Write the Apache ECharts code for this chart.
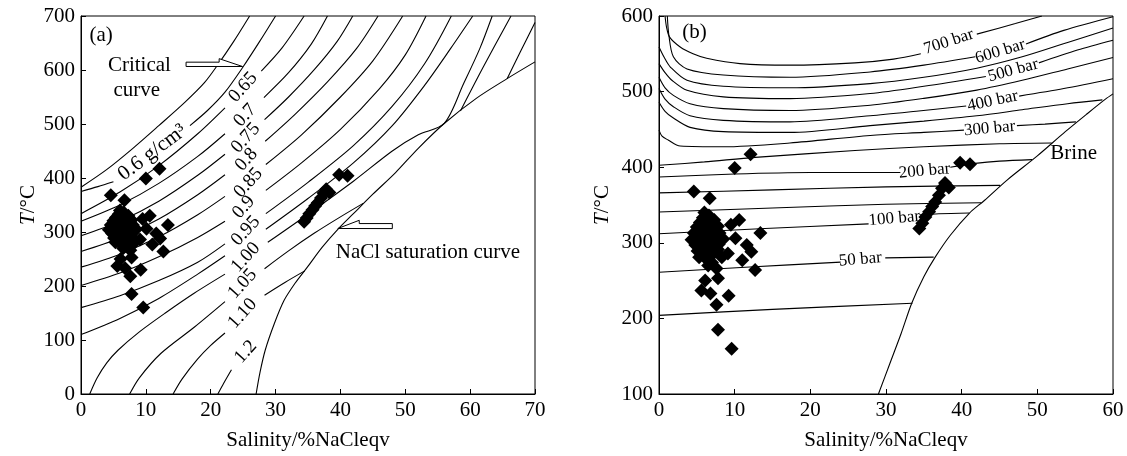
<!DOCTYPE html>
<html><head><meta charset="utf-8">
<script src="https://cdn.jsdelivr.net/npm/echarts@6/dist/echarts.min.js"></script>
<style>html,body{margin:0;padding:0;background:#fff}#c{width:1127px;height:456px}</style>
</head><body><div id="c"></div>
<script>
// ---------- DATA ----------
const xTicksA = [0,10,20,30,40,50,60,70];
const yTicksA = [0,100,200,300,400,500,600,700];
const xTicksB = [0,10,20,30,40,50,60];
const yTicksB = [100,200,300,400,500,600];

// fluid inclusions (salinity wt% NaCl eqv, Th °C)
const inclusions = [
 [4.6,368],[6.7,359],[10.0,399],[12.1,417],
 [10.6,330],[9.5,324],[13.4,313],[10.1,306],[11.6,297],[12.2,288],[9.1,286],[11.0,277],[12.7,264],
 [7.6,266],[7.8,253],[6.1,250],[5.6,237],[6.8,233],[9.2,230],[7.6,218],[7.8,185],[9.6,160],
 [8.5,305],[7.8,291],[8.3,281],
 [4.3,304],[4.6,313],[4.8,297],[5.0,321],[5.1,289],[5.2,308],[5.4,327],[5.5,300],[5.6,316],[5.7,285],
 [5.8,333],[5.9,295],[6.0,310],[6.1,323],[6.2,279],[6.3,302],[6.4,291],[6.5,318],[6.6,336],[6.7,308],
 [6.8,296],[6.9,326],[7.0,284],[7.1,313],[7.2,300],[7.3,330],[7.4,318],[7.5,290],[7.6,306],[7.8,322],
 [7.9,298],[8.0,313],[6.0,340],[7.0,274],[6.5,270],[5.3,281],
 [34.4,319],[34.8,326],[35.2,334],[35.7,341],[36.1,348],[36.5,354],[37.0,363],[37.4,372],[37.8,379],
 [38.3,373],[39.8,406],[41.1,404]
];

// (a) isochores, critical curve, NaCl saturation curve
const critCurve = [[0,383],[4,416],[8,455],[12,497],[16,540],[19,576],[21,608],[23.5,652],[26,700]];
const iso060L = [[0,375],[2.6,384],[5.0,393]];
const iso060R = [[16.8,497],[19.5,525],[22.2,559],[25,606],[27.5,652],[30,700]];
const iso065L = [[0,334],[6,374],[12,423],[18,482],[22.2,530]];
const iso065R = [[27.8,598],[31,641],[34.4,700]];
const iso070L = [[0,320],[6,350],[12,390],[18,440],[22.2,482]];
const iso070R = [[28.2,549],[32,595],[35.5,648],[38,700]];
const iso075L = [[0,293],[6,320],[12,357],[18,405],[22.2,444]];
const iso075R = [[28.3,508],[32,550],[36,601],[39.5,653],[41.9,700]];
const iso080L = [[0,264],[6,289],[12,324],[18,369],[22.2,406]];
const iso080R = [[28.4,468],[33,518],[38,578],[42.5,640],[45.8,700]];
const iso085L = [[0,235],[6,259],[12,291],[18,332],[22.2,366]];
const iso085R = [[28.5,425],[34,480],[40,550],[45,617],[49.6,700]];
const iso090L = [[0,201],[6,224],[12,254],[18,290],[22.2,320]];
const iso090R = [[28.5,377],[34,428],[40,490],[46,565],[50,628],[53.2,700]];
const iso095L = [[0,160],[6,182],[12,210],[18,244],[22.2,278]];
const iso095R = [[28.5,334],[35,392],[42,460],[48,533],[53,612],[57.1,700]];
const isoXL = [[0,110],[6,140],[12,177],[18,222],[22.2,256]];
const isoXR = [[28.5,305],[35,362],[42,428],[48,497],[53,572],[57,640],[60.4,700]];
const iso100L = [[1.35,0],[2.5,30],[4,58],[5.7,81],[9,115],[13,150],[17.5,187],[22.2,222]];
const iso100R = [[28.8,281],[35,333],[42,394],[48,450],[52,480],[56,501],[59,575],[61.5,640],[63.4,700]];
const iso105L = [[7.5,0],[9,30],[12.3,75],[17.5,124],[22.2,171]];
const iso105R = [[28.3,232],[32,265],[36,298],[40,328],[43.5,353]];
const iso110L = [[14.2,0],[15.6,28],[18,65],[20,90],[22.2,113]];
const iso110R = [[28.3,183],[31.5,207],[34.5,228]];
const iso120L = [[21.1,0],[22,20],[23.2,45]];
const extra1 = [[58.5,524],[62,605],[66.3,700]];
const extra2 = [[65.7,584],[67.8,635],[70,688]];
const satCurveA = [[27,0],[27.6,40],[28.4,81],[29.8,130],[31.3,173],[33,205],[34.9,235],[37.2,272],[39.6,305],[42,334],[45,370],[48.5,410],[52,455],[56,501],[61,548],[65.7,584],[70,615]];
const critArrow = [[16.2,614.5],[21.3,614.5],[21.3,621],[24.9,606.5],[16.2,606.5]];
const satArrow = [[39.6,306.5],[42.9,321.7],[42.9,315.6],[48.0,315.6],[48.0,306.3]];

// (b) isobars and brine (halite saturation) curve
const bar700L = [[0.8,600],[1.0,585],[1.4,572],[2.8,559],[4.5,550],[6.3,544],[10.7,537],[17.3,535],[25.9,538],[31,543],[34.6,550]];
const bar700R = [[42,576],[47.1,590],[50.6,600]];
const bar600L = [[1.1,600],[1.3,575],[1.9,546],[3.7,530],[8.5,522],[17.3,519],[27.9,526],[35,535],[41.8,546]];
const bar600R = [[48.5,563],[53.5,581],[60,599]];
const bar550 = [[0,559],[0.7,545],[1.5,532.5],[3.7,515],[8.5,507],[17.3,505],[27.9,510.6],[35,519],[42,531],[48,546],[54,565],[60,584]];
const bar500L = [[0,537],[0.8,525],[1.7,515],[3.7,501.7],[8.5,493],[17.3,490.7],[27.9,497.4],[35,507],[43.2,520]];
const bar500R = [[50.2,538],[55.3,555],[60,568]];
const bar450 = [[0,519],[0.8,505],[1.9,495],[4.1,484],[8.5,477.5],[17.3,475],[27.9,482],[35,491],[42,502],[48,515],[54,530],[60,545]];
const bar400L = [[0,504],[0.8,490],[1.9,480],[4.1,468],[8.5,462],[17.3,460],[27.9,468],[34,474],[40.6,481]];
const bar400R = [[47.6,494],[53.5,504],[60,517]];
const bar350 = [[0,486],[0.8,474],[1.9,465],[4.1,452.7],[8.5,447],[17.3,446],[27.9,455],[35,461],[42,468],[48,476],[54,484],[58.6,489]];
const bar300L = [[0,449],[0.4,441],[1.2,436],[2.8,428],[8.5,427],[17.3,432],[27.9,442],[35,446],[40.3,449]];
const bar300R = [[47.3,455],[51,457],[55.1,460]];
const bar250 = [[0,402.5],[6,407],[12.7,413],[25.9,422],[35,427],[45,431],[51.9,432]];
const bar200L = [[0,387],[10,391],[20,393],[31.9,393]];
const bar200R = [[38.5,400],[41.8,405],[45,408],[49.3,410]];
const bar150 = [[0,366],[15,370],[30,374],[45.1,376]];
const bar125 = [[0,340.7],[15,346],[30,351],[42.6,353]];
const bar100L = [[0,312],[14,319],[27.7,325]];
const bar100R = [[34.5,337],[37,338.5],[41,339.5]];
const bar50L = [[0,261],[12,268],[24,274.5]];
const bar50R = [[29.9,280],[36.3,281]];
const bar25 = [[0,204],[15,212],[33.5,220]];
const brineCurve = [[29,100],[30.5,140],[32,180],[33.4,220],[35,255],[36.5,281],[38.5,310],[41,339],[43,356],[46,383],[50,415],[53.7,447],[56.5,470],[59,490],[60,497]];

// annotation texts
const textsA = ['(a)','Critical','curve','0.6 g/cm³','0.65','0.7','0.75','0.8','0.85','0.9','0.95','1.00','1.05','1.10','1.2','NaCl saturation curve'];
const textPosA = [[3.1,663],[9.0,609],[8.6,562],[11,447],[25.0,568],[25.3,516],[25.4,474],[25.5,434],[25.8,391],[25.1,346],[25.4,302],[25.4,253],[24.9,204],[24.9,149],[25.4,78],[53.5,262]];
const textRotA = [0,0,0,37,48,48,48,48,48,48,48,48,48,48,48,0];
const textSizeA = [21,21,21,21,19,19,19,19,19,19,19,19,19,19,19,21];
const textsB = ['(b)','700 bar','600 bar','500 bar','400 bar','300 bar','200 bar','100 bar','50 bar','Brine'];
const textPosB = [[4.7,578],[38.3,566],[45.1,553],[46.8,528],[44.1,487.5],[43.7,451],[35.1,395],[31.1,332],[26.6,278],[54.8,418]];
const textRotB = [0,18,17,15,12,5,5,5,5,0];
const textSizeB = [21,17,17,17,17,17,17,17,17,21];

// ---------- CHART ----------
const FONT = 'Liberation Serif';
const chart = echarts.init(document.getElementById('c'), null, {renderer:'canvas'});

const curvesA = [critCurve,iso060L,iso060R,iso065L,iso065R,iso070L,iso070R,iso075L,iso075R,iso080L,iso080R,
  iso085L,iso085R,iso090L,iso090R,iso095L,iso095R,isoXL,isoXR,iso100L,iso100R,iso105L,iso105R,iso110L,iso110R,
  iso120L,extra1,extra2,satCurveA];
const curvesB = [bar700L,bar700R,bar600L,bar600R,bar550,bar500L,bar500R,bar450,bar400L,bar400R,bar350,
  bar300L,bar300R,bar250,bar200L,bar200R,bar150,bar125,bar100L,bar100R,bar50L,bar50R,bar25,brineCurve];

function lineSeries(d, gi){
  return {type:'line', xAxisIndex:gi, yAxisIndex:gi, data:d, showSymbol:false, smooth:0.3,
    lineStyle:{color:'#000', width:1.1}, silent:true, z:2, animation:false};
}
function textLayer(gi, pos, texts, rots, sizes){
  return {type:'custom', xAxisIndex:gi, yAxisIndex:gi, data:pos, silent:true, z:6, clip:false,
    renderItem:(params, api)=>{
      const p = api.coord([api.value(0), api.value(1)]);
      const i = params.dataIndex;
      return {type:'text', x:p[0], y:p[1], rotation:rots[i]*Math.PI/180,
        style:{text:texts[i], fill:'#000', fontSize:sizes[i], fontFamily:FONT, align:'center', verticalAlign:'middle'}};
    }};
}
function arrowLayer(gi, pts){
  return {type:'custom', xAxisIndex:gi, yAxisIndex:gi, data:pts, silent:true, z:7,
    renderItem:(params, api)=>{
      if(params.dataIndex!==0) return null;
      return {type:'polygon', shape:{points:pts.map(q=>api.coord(q))},
        style:{fill:'#fff', stroke:'#000', lineWidth:1}};
    }};
}
function xAx(gi,max,ticks){
  return {gridIndex:gi, type:'value', min:0, max:max, interval:10,
    axisLine:{onZero:false, lineStyle:{color:'#000', width:1}},
    axisTick:{inside:true, length:5, lineStyle:{color:'#000'}},
    axisLabel:{color:'#000', fontFamily:FONT, fontSize:21, margin:6},
    splitLine:{show:false},
    name:'Salinity/%NaCleqv', nameLocation:'middle', nameGap:36,
    nameTextStyle:{color:'#000', fontFamily:FONT, fontSize:21}};
}
function yAx(gi,min,max,ticks,gap){
  return {gridIndex:gi, type:'value', min:min, max:max, interval:100,
    axisLine:{onZero:false, lineStyle:{color:'#000', width:1}},
    axisTick:{inside:true, length:5, lineStyle:{color:'#000'}},
    axisLabel:{color:'#000', fontFamily:FONT, fontSize:21, margin:6},
    splitLine:{show:false},
    name:'{i|T}/°C', nameLocation:'middle', nameGap:gap,
    nameTextStyle:{color:'#000', fontFamily:FONT, fontSize:21,
      rich:{i:{fontStyle:'italic', fontFamily:FONT, fontSize:21, color:'#000'}}}};
}

const series = [];
curvesA.forEach(d=>series.push(lineSeries(d,0)));
curvesB.forEach(d=>series.push(lineSeries(d,1)));
series.push(arrowLayer(0, critArrow));
series.push(arrowLayer(0, satArrow));
series.push(textLayer(0, textPosA, textsA, textRotA, textSizeA));
series.push(textLayer(1, textPosB, textsB, textRotB, textSizeB));
[0,1].forEach(gi=>series.push({type:'scatter', xAxisIndex:gi, yAxisIndex:gi, data:inclusions,
  symbol:'diamond', symbolSize:14, itemStyle:{color:'#000', opacity:1}, z:8, silent:true}));

chart.setOption({
  animation:false,
  backgroundColor:'#fff',
  grid:[
    {left:81, right:592, top:16, bottom:62, show:true, borderColor:'#000', borderWidth:1, backgroundColor:'rgba(0,0,0,0)'},
    {left:659, right:14, top:16, bottom:62, show:true, borderColor:'#000', borderWidth:1, backgroundColor:'rgba(0,0,0,0)'}
  ],
  xAxis:[xAx(0,70,xTicksA), xAx(1,60,xTicksB)],
  yAxis:[yAx(0,0,700,yTicksA,42), yAx(1,100,600,yTicksB,46)],
  series:series
});
</script></body></html>
